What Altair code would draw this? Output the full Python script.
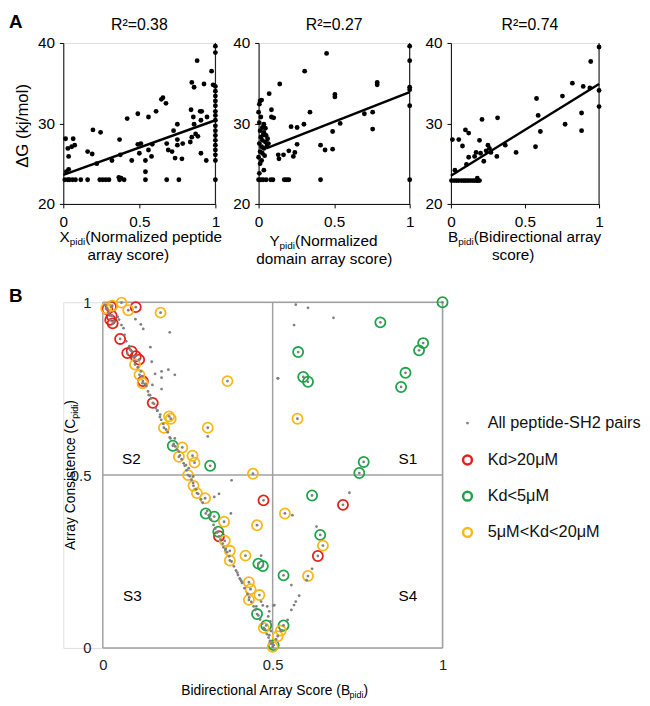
import altair as alt
import pandas as pd

FONT = "Liberation Sans"

# ---------------- Panel A data ----------------
p1_x = [0.01, 0.03, 0.04, 0.06, 0.08, 0.115, 0.16, 0.24, 0.26, 0.28, 0.30, 0.37, 0.38, 0.40, 0.54, 0.68, 0.76, 0.365,
        0.015, 0.065, 0.03, 0.055, 0.075, 0.035, 0.035, 0.02,
        0.16, 0.19, 0.195, 0.245, 0.22, 0.32, 0.37, 0.375, 0.42, 0.45, 0.49, 0.49, 0.51, 0.50, 0.54, 0.54, 0.56, 0.56,
        0.585, 0.58, 0.61, 0.645, 0.655, 0.675, 0.68, 0.69, 0.715, 0.725, 0.75, 0.75, 0.75, 0.735, 0.78, 0.785, 0.835,
        0.845, 0.845, 0.86, 0.84, 0.855, 0.86, 0.87, 0.885, 0.88, 0.90, 0.91, 0.905, 0.905, 0.925, 0.94, 0.945, 0.975, 0.985,
        1, 1, 1, 1, 1, 1, 1, 1, 1, 1, 1, 1, 1, 1, 1, 1, 1, 1, 1]
p1_y = [23.0, 23.0, 23.0, 23.0, 23.0, 23.0, 23.0, 23.0, 23.0, 23.0, 23.0, 23.0, 23.2, 23.0, 23.0, 23.0, 23.0, 23.3,
        28.1, 28.1, 26.9, 27.1, 27.3, 25.9, 24.3, 24.0,
        26.5, 26.2, 29.2, 28.9, 25.0, 25.4, 28.0, 26.1, 30.6, 25.4, 31.2, 27.4, 27.5, 26.3, 25.4, 24.0, 30.8, 26.7,
        27.4, 25.9, 31.5, 33.0, 33.2, 32.5, 27.5, 26.7, 26.5, 29.1, 29.9, 28.0, 27.3, 25.7, 25.6, 27.5, 27.7,
        28.3, 35.1, 34.5, 31.7, 30.8, 29.9, 28.7, 28.4, 37.8, 31.5, 31.5, 30.4, 26.3, 34.9, 25.4, 30.8, 36.5, 34.8,
        39.6, 38.8, 34.6, 34.0, 33.4, 32.8, 32.2, 31.5, 31.0, 30.4, 29.7, 29.1, 28.5, 27.9, 27.3, 26.7, 26.1, 25.4, 23.0]
p1_fit_x = [0, 1]
p1_fit_y = [23.6, 30.4]

p2_x = [0, 0.015, 0.03, 0.05, 0.08, 0.095, 0.17, 0.185, 0.2, 0.41, 1.0,
        0.01, 0.02, 0.005, 0, 0.015, 0.005, 0.035, 0.025, 0.01, 0.035, 0.05, 0.015, 0.06, 0.025, 0.045, 0.005,
        0.065, 0.02, 0.035, 0.01, 0.025, 0, 0.02, 0.01, 0.035, 0.005, 0.04, 0.055, 0.03, 0.045,
        0.07, 0.085, 0.085, 0.10, 0.14, 0.13, 0.135, 0.165, 0.2, 0.215, 0.23, 0.24, 0.255, 0.255, 0.30, 0.305,
        0.34, 0.41, 0.44, 0.45, 0.49, 0.49, 0.505, 0.505, 0.54, 0.70, 0.755, 0.755, 0.785, 0.785,
        1, 1, 1, 1, 1]
p2_y = [23.0, 23.0, 23.0, 23.0, 23.0, 23.0, 23.0, 23.0, 23.0, 23.0, 23.0,
        32.8, 32.9, 32.4, 31.4, 30.8, 30.1, 29.9, 29.5, 29.1, 28.9, 28.5, 28.3, 28.1, 27.9, 27.7, 27.5,
        27.5, 27.1, 26.9, 26.5, 26.3, 25.8, 25.4, 25.0, 24.2, 23.8, 26.0, 27.2, 28.6, 29.4,
        33.7, 31.7, 30.8, 30.7, 34.9, 26.1, 25.6, 26.1, 26.6, 29.6, 25.9, 26.4, 29.5, 27.4, 29.9, 36.5,
        31.4, 27.3, 26.7, 38.7, 26.8, 29.0, 33.6, 33.3, 30.0, 31.2, 31.4, 29.3, 35.1, 34.8,
        39.6, 37.8, 34.5, 34.2, 32.2]
p2_fit_x = [0.05, 1]
p2_fit_y = [26.9, 33.9]

p3_x = [0.004, 0.022, 0.038, 0.053, 0.071, 0.087, 0.10, 0.115, 0.13, 0.147, 0.16, 0.175, 0.18, 0.193, 0.178,
        0.01, 0.053, 0.078, 0.098, 0.12, 0.027, 0.12, 0.105, 0.16, 0.17, 0.193, 0.21, 0.20, 0.222, 0.238,
        0.25, 0.26, 0.27, 0.315, 0.31, 0.367, 0.44, 0.571, 0.578, 0.589, 0.604, 0.753, 0.771, 0.82, 0.882,
        0.882, 0.893, 0.938, 0.944, 1.0, 1.0, 1.0]
p3_y = [22.9, 22.9, 22.9, 22.9, 22.9, 22.9, 22.9, 22.9, 22.9, 22.9, 22.9, 22.9, 22.9, 22.9, 23.2,
        28.0, 28.0, 27.2, 29.2, 28.8, 24.2, 25.8, 24.9, 25.9, 26.4, 27.9, 30.5, 26.3, 25.3, 26.6,
        27.3, 26.9, 26.4, 30.7, 25.9, 27.3, 26.4, 27.1, 33.1, 31.0, 29.0, 33.4, 29.9, 35.0, 31.3,
        29.1, 34.6, 34.4, 37.7, 39.5, 34.1, 32.1]
p3_fit_x = [0, 1]
p3_fit_y = [23.5, 34.9]

a_titles = ["R\u00b2=0.38", "R\u00b2=0.27", "R\u00b2=0.74"]
a_xlab1 = [[("X", False), ("pidi", True), ("(Normalized peptide", False)],
           [("Y", False), ("pidi", True), ("(Normalized", False)],
           [("B", False), ("pidi", True), ("(Bidirectional array", False)]]
a_xlab2 = ["array score)", "domain array score)", "score)"]
a_ylab = "\u0394G (kj/mol)"
a_xticks = [0, 0.5, 1]
a_yticks = [20, 30, 40]

# ---------------- Panel B data ----------------
all_b = [0.006, 0.011, 0.017, 0.021, 0.033, 0.044, 0.048, 0.055, 0.061, 0.064, 0.069, 0.078, 0.081, 0.09, 0.093,
         0.103, 0.112, 0.116, 0.124, 0.128, 0.133, 0.139, 0.142, 0.151, 0.156, 0.16, 0.168, 0.172, 0.178, 0.186,
         0.191, 0.199, 0.209, 0.213, 0.218, 0.227, 0.232, 0.241, 0.247, 0.256, 0.261, 0.266, 0.274, 0.281, 0.289,
         0.294, 0.307, 0.312, 0.318, 0.326, 0.331, 0.336, 0.347, 0.353, 0.362, 0.366, 0.372, 0.379, 0.386, 0.392,
         0.398, 0.405, 0.41, 0.417, 0.426, 0.431, 0.437, 0.444, 0.449, 0.458, 0.463, 0.469, 0.477, 0.483, 0.488,
         0.492, 0.496,
         0.096, 0.112, 0.119, 0.197, 0.14, 0.144, 0.173, 0.193, 0.212, 0.154, 0.173, 0.146, 0.173, 0.135, 0.161,
         0.169, 0.516, 0.309, 0.197, 0.212, 0.224, 0.238, 0.245, 0.253, 0.266, 0.379, 0.328, 0.342, 0.377, 0.355,
         0.361, 0.396, 0.403, 0.408, 0.452, 0.466, 0.471, 0.484, 0.49, 0.503, 0.487, 0.493, 0.495, 0.49, 0.466,
         0.726, 0.558, 0.629, 0.616, 0.6, 0.555, 0.578, 0.568, 0.563, 0.555, 0.544, 0.505, 0.529, 0.51, 0.5,
         0.568, 0.604, 0.679, 0.563, 0.515]
all_c = [0.992, 0.983, 0.969, 0.962, 0.945, 0.958, 0.95, 0.934, 0.925, 0.906, 0.887, 0.873, 0.862, 0.842, 0.83,
         0.812, 0.8, 0.786, 0.764, 0.758, 0.742, 0.731, 0.722, 0.706, 0.694, 0.686, 0.668, 0.66, 0.648, 0.632,
         0.624, 0.606, 0.59, 0.583, 0.574, 0.557, 0.546, 0.527, 0.514, 0.497, 0.486, 0.477, 0.459, 0.446, 0.43,
         0.42, 0.396, 0.384, 0.372, 0.356, 0.345, 0.334, 0.313, 0.302, 0.286, 0.277, 0.265, 0.25, 0.236, 0.224,
         0.211, 0.198, 0.188, 0.173, 0.156, 0.146, 0.133, 0.12, 0.11, 0.094, 0.082, 0.07, 0.054, 0.04, 0.03,
         0.02, 0.012,
         0.951, 0.936, 0.923, 0.913, 0.87, 0.828, 0.8, 0.805, 0.79, 0.793, 0.782, 0.761, 0.749, 0.732, 0.687,
         0.675, 0.78, 0.612, 0.609, 0.606, 0.568, 0.534, 0.529, 0.52, 0.496, 0.485, 0.437, 0.446, 0.389, 0.291,
         0.284, 0.218, 0.201, 0.193, 0.12, 0.134, 0.123, 0.12, 0.106, 0.123, 0.091, 0.077, 0.049, 0.037, 0.267,
         0.449, 0.384, 0.351, 0.229, 0.196, 0.182, 0.151, 0.134, 0.124, 0.11, 0.081, 0.124, 0.05, 0.025, 0.015,
         0.993, 0.984, 0.955, 0.934, 0.78]

red_b = [0.013, 0.024, 0.026, 0.022, 0.029, 0.051, 0.072, 0.085, 0.097, 0.107, 0.118, 0.097, 0.147, 0.342, 0.473, 0.633, 0.707]
red_c = [0.980, 0.987, 0.961, 0.949, 0.939, 0.894, 0.853, 0.858, 0.844, 0.834, 0.772, 0.986, 0.709, 0.323, 0.427, 0.266, 0.414]

green_b = [0.206, 0.316, 0.303, 0.328, 0.340, 0.458, 0.471, 0.454, 0.481, 0.503, 0.532, 0.532, 0.616, 0.640, 0.755,
           0.768, 1.0, 0.817, 0.943, 0.931, 0.891, 0.878, 0.575, 0.590, 0.604]
green_c = [0.585, 0.527, 0.389, 0.380, 0.336, 0.244, 0.237, 0.098, 0.065, 0.008, 0.210, 0.065, 0.441, 0.327, 0.506,
           0.538, 1.0, 0.942, 0.882, 0.861, 0.796, 0.755, 0.856, 0.784, 0.770]

orange_b = [0.010, 0.028, 0.055, 0.075, 0.170, 0.095, 0.108, 0.117, 0.367, 0.195, 0.200, 0.180, 0.309, 0.234, 0.264,
            0.270, 0.224, 0.251, 0.442, 0.267, 0.277, 0.301, 0.357, 0.454, 0.359, 0.374, 0.420, 0.374, 0.430, 0.435,
            0.461, 0.430, 0.474, 0.524, 0.515, 0.500, 0.536, 0.573, 0.648, 0.604]
orange_c = [0.982, 0.990, 0.999, 0.977, 0.970, 0.820, 0.790, 0.766, 0.772, 0.670, 0.663, 0.637, 0.637, 0.580, 0.556,
            0.536, 0.553, 0.500, 0.504, 0.469, 0.448, 0.433, 0.365, 0.355, 0.310, 0.281, 0.267, 0.253, 0.190, 0.170,
            0.153, 0.139, 0.058, 0.050, 0.034, 0.003, 0.389, 0.663, 0.296, 0.208]

legend_labels = ["All peptide-SH2 pairs", "Kd>20\u03bcM", "Kd<5\u03bcM", "5\u03bcM<Kd<20\u03bcM"]
quad_labels = ["S1", "S2", "S3", "S4"]
b_ticks = [0, 0.5, 1]
b_lines = [0, 0.5, 1]

GRAY = "#808080"
RED = "#e3201b"
GREEN = "#1fa347"
ORANGE = "#f9b81a"
FRAME = "#a0a0a0"

ONE = pd.DataFrame({"k": [0]})

# Arial / Liberation Sans advance widths (1/1000 em)
W = {' ': 278, '(': 333, ')': 333, 'A': 667, 'B': 667, 'C': 722, 'N': 722, 'X': 667, 'Y': 667,
     'a': 556, 'c': 500, 'd': 556, 'e': 556, 'i': 222, 'l': 222, 'm': 833, 'n': 556, 'o': 556,
     'p': 556, 'r': 333, 's': 500, 't': 278, 'y': 500, 'z': 500}


def tw(s, fs):
    return sum(W.get(ch, 556) for ch in s) * fs / 1000.0


def rich(segs, cx, cy, fs, angle=0, sub_scale=0.65, sub_dy=3.0, color="black"):
    total = sum(tw(t, fs * sub_scale if s else fs) for t, s in segs)
    off = -total / 2.0
    out = []
    for t, s in segs:
        f = fs * sub_scale if s else fs
        kw = dict(align="left", baseline="alphabetic", dx=off, dy=(sub_dy if s else 0),
                  fontSize=f, font=FONT, color=color)
        if angle:
            kw["angle"] = angle
        out.append(alt.Chart(ONE).mark_text(**kw).encode(
            x=alt.value(cx), y=alt.value(cy), text=alt.value(t)))
        off += tw(t, f)
    return out


def text(t, x, y, fs, align="center", baseline="alphabetic", bold=False, angle=0, color="black"):
    kw = dict(align=align, baseline=baseline, fontSize=fs, font=FONT, color=color,
              fontWeight="bold" if bold else "normal")
    if angle:
        kw["angle"] = angle
    return alt.Chart(ONE).mark_text(**kw).encode(x=alt.value(x), y=alt.value(y), text=alt.value(t))


A_H = 163
A_TF = 15.5


def panel_a(i, xs, ys, fx, fy, w, title_cx, l1, l2, extra):
    xsc = alt.Scale(domain=[0, 1], nice=False, zero=False)
    ysc = alt.Scale(domain=[20, 40], nice=False, zero=False)
    xax = alt.Axis(values=a_xticks, format=".1~f", title=None, grid=False, labelFontSize=15.5, labelFont=FONT,
                   labelColor="black", domainColor="black", tickColor="black", tickSize=4, labelPadding=7,
                   labelFlush=False)
    yax = alt.Axis(values=a_yticks, format="d", title=None, grid=False, labelFontSize=15.5, labelFont=FONT,
                   labelColor="black", domainColor="black", tickColor="black", tickSize=4, labelPadding=5)
    pts = alt.Chart(pd.DataFrame({"x": xs, "y": ys})).mark_circle(size=24, color="black", opacity=1).encode(
        x=alt.X("x:Q", scale=xsc, axis=xax), y=alt.Y("y:Q", scale=ysc, axis=yax))
    fit = alt.Chart(pd.DataFrame({"x": fx, "y": fy})).mark_line(color="black", strokeWidth=2.5).encode(
        x="x:Q", y="y:Q")
    rule = alt.Chart(pd.DataFrame({"x": [1]})).mark_rule(color="black", strokeWidth=1).encode(x="x:Q")
    layers = [rule, pts, fit, text(a_titles[i], title_cx, -13, 16)]
    layers += rich(a_xlab1[i], l1[0], l1[1], A_TF)
    layers.append(text(a_xlab2[i], l2[0], l2[1], A_TF))
    layers += extra
    return alt.layer(*layers).properties(width=w, height=A_H)


p1 = panel_a(0, p1_x, p1_y, p1_fit_x, p1_fit_y, 154, 77, (78.5, 202), (65.8, 219.5),
             [text("A", -55, -14.8, 19, align="left", bold=True),
              text(a_ylab, -36, 84, 17, angle=270)])
p2 = panel_a(1, p2_x, p2_y, p2_fit_x, p2_fit_y, 153, 76.5, (65.7, 205.5), (66.5, 224), [])
p3 = panel_a(2, p3_x, p3_y, p3_fit_x, p3_fit_y, 150, 80, (74.7, 202), (63, 219.5), [])

# ---------------- Panel B ----------------
# the plot rectangle of panel B starts SHIFT px to the right of panel A's first plot
SHIFT = 40
B_PW, B_H = 344, 350
B_W = B_PW + SHIFT
bx = alt.Scale(domain=[-SHIFT / B_PW, 1], nice=False, zero=False)
by = alt.Scale(domain=[0, 1], nice=False, zero=False)
bxax = alt.Axis(values=b_ticks, format=".1~f", title=None, grid=False, domain=False, ticks=False,
                labelFontSize=15, labelFont=FONT, labelColor="#222222", labelPadding=10, labelFlush=False)
byax = alt.Axis(values=b_ticks, format=".1~f", title=None, grid=False, domain=False, ticks=False,
                labelFontSize=15, labelFont=FONT, labelColor="#222222", labelPadding=12, labelFlush=False,
                offset=-SHIFT)

vlines = alt.Chart(pd.DataFrame({"v": b_lines, "lo": [0] * 3, "hi": [1] * 3})).mark_rule(
    color=FRAME, strokeWidth=1.5).encode(
    x=alt.X("v:Q", scale=bx, axis=bxax), y=alt.Y("lo:Q", scale=by, axis=byax), y2="hi:Q")
hlines = alt.Chart(pd.DataFrame({"v": b_lines, "lo": [0] * 3, "hi": [1] * 3})).mark_rule(
    color=FRAME, strokeWidth=1.5).encode(y="v:Q", x="lo:Q", x2="hi:Q")


def rings(bs, cs, col):
    return alt.Chart(pd.DataFrame({"b": bs, "c": cs})).mark_point(
        shape="circle", size=105, filled=False, color=col, strokeWidth=1.8, opacity=1).encode(
        x="b:Q", y="c:Q")


dots_df = pd.DataFrame({"b": all_b + red_b + green_b + orange_b, "c": all_c + red_c + green_c + orange_c})
dots = alt.Chart(dots_df).mark_circle(size=8, color=GRAY, opacity=1).encode(x="b:Q", y="c:Q")

b_layers = [vlines, hlines, rings(red_b, red_c, RED), rings(green_b, green_c, GREEN),
            rings(orange_b, orange_c, ORANGE), dots]

# quadrant labels
for lab, (qx, qy) in zip(quad_labels, [(309, 163.5), (29, 163.5), (30, 302.5), (309, 302.5)]):
    b_layers.append(text(lab, qx + SHIFT, qy, 15.5))

# panel letter and axis titles
b_layers.append(text("B", -55, 0, 19, align="left", bold=True))
b_layers += rich([("Bidirectional Array Score (B", False), ("pidi", True), (")", False)], 174 + SHIFT, 398, 14)
b_layers += rich([("Array Consistence (C", False), ("pidi", True), (")", False)], -28 + SHIFT, 175, 14, angle=270)

# legend
leg_y = [122.3, 159.7, 196.3, 233.0]
LEG_X = 369.3 + SHIFT
b_layers.append(alt.Chart(ONE).mark_circle(size=8, color=GRAY, opacity=1).encode(
    x=alt.value(LEG_X), y=alt.value(leg_y[0])))
for col, yy in zip([RED, GREEN, ORANGE], leg_y[1:]):
    b_layers.append(alt.Chart(ONE).mark_point(shape="circle", size=80, filled=False, color=col,
                                              strokeWidth=2.5, opacity=1).encode(
        x=alt.value(LEG_X), y=alt.value(yy)))
for lab, yy in zip(legend_labels, leg_y):
    b_layers.append(text(lab, LEG_X + 20.4, yy, 16.5, align="left", baseline="middle", color="#111111"))

pB = alt.layer(*b_layers).properties(width=B_W, height=B_H)

row1 = alt.hconcat(p1, p2, p3, spacing=8.75)
chart = alt.vconcat(row1, pB, spacing=18.6).properties(padding=0).configure_view(stroke=None).configure(
    font=FONT, background="white")

chart.save("out.html", embed_options={"renderer": "svg", "actions": False})
